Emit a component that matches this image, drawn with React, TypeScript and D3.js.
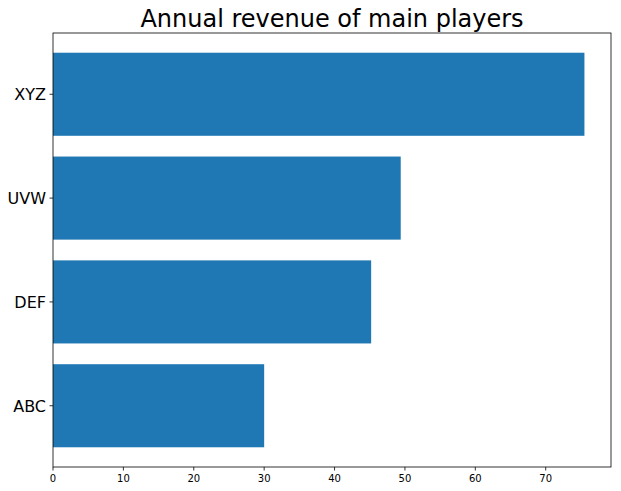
import React from "react";
import * as d3 from "d3";

const categories = ["ABC", "DEF", "UVW", "XYZ"];
const revenues = [30.0, 45.2, 49.4, 75.5];
const xTicks = [0, 10, 20, 30, 40, 50, 60, 70];
const titleText = "Annual revenue of main players";

const W = 621;
const H = 491;
const left = 53;
const right = 611;
const top = 33;
const bottom = 467;
const barColor = "#1f77b4";
const font = "DejaVu Sans, sans-serif";

export default function App() {
  const maxV = d3.max(revenues) as number;
  const x = d3.scaleLinear().domain([0, maxV * 1.05]).range([left, right]);
  const n = categories.length;
  const barH = 0.8;
  const lo = -barH / 2;
  const hi = n - 1 + barH / 2;
  const m = (hi - lo) * 0.05;
  const y = d3.scaleLinear().domain([lo - m, hi + m]).range([bottom, top]);

  return (
    <svg
      width={W}
      height={H}
      style={{ position: "absolute", left: 0, top: 0, background: "#fff" }}
      fontFamily={font}
    >
      <rect x={0} y={0} width={W} height={H} fill="#fff" />
      {revenues.map((v, i) => (
        <rect
          key={categories[i]}
          x={x(0)}
          y={y(i + barH / 2)}
          width={x(v) - x(0)}
          height={y(i - barH / 2) - y(i + barH / 2)}
          fill={barColor}
        />
      ))}
      <rect
        x={left}
        y={top}
        width={right - left}
        height={bottom - top}
        fill="none"
        stroke="#000"
        strokeWidth={0.8}
      />
      {xTicks.map((t) => (
        <g key={t}>
          <line x1={x(t)} x2={x(t)} y1={bottom} y2={bottom + 3.5} stroke="#000" strokeWidth={0.8} />
          <text x={x(t)} y={bottom + 7} dy="0.76em" textAnchor="middle" fontSize={10} fill="#000">
            {t}
          </text>
        </g>
      ))}
      {categories.map((c, i) => (
        <g key={c}>
          <line x1={left - 3.5} x2={left} y1={y(i)} y2={y(i)} stroke="#000" strokeWidth={0.8} />
          <text
            x={left - 7}
            y={y(i)}
            dy="0.36em"
            textAnchor="end"
            fontSize={16}
            fill="#000"
          >
            {c}
          </text>
        </g>
      ))}
      <text x={(left + right) / 2} y={top - 6} textAnchor="middle" fontSize={24} fill="#000">
        {titleText}
      </text>
    </svg>
  );
}
